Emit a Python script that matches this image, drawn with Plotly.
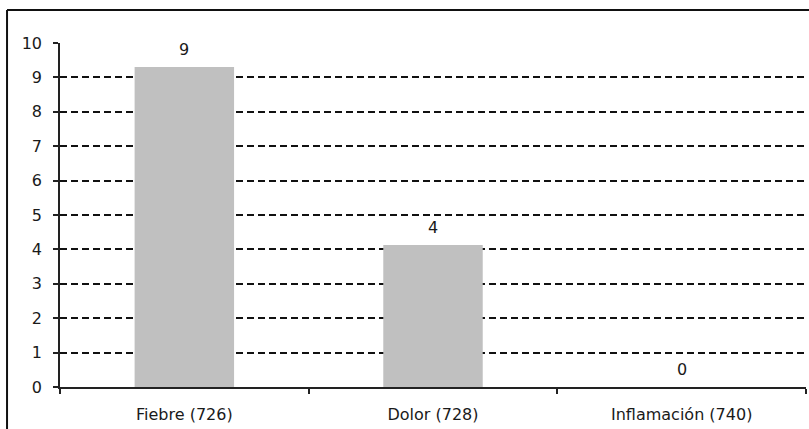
import plotly.graph_objects as go

# Data
categories = ["Fiebre (726)", "Dolor (728)", "Inflamación (740)"]
values = [9.3, 4.13, 0]
y_ticks = list(range(0, 11))

FONT = "DejaVu Sans"
TEXT_COLOR = "#1a1a1a"
FONT_SIZE = 16

fig = go.Figure()
fig.add_trace(go.Bar(
    x=categories,
    y=values,
    marker=dict(color="#c0c0c0", line=dict(width=0)),
    hoverinfo="skip",
))

# Value labels above each bar, formatted from the bar values
for cat, v in zip(categories, values):
    fig.add_annotation(
        x=cat, y=v, text=f"{v:.0f}", showarrow=False,
        xref="x", yref="y", yanchor="bottom", yshift=6,
        font=dict(family=FONT, size=FONT_SIZE, color=TEXT_COLOR),
    )

# Outer frame of the chart area (top and left edges)
frame = dict(color="#111111", width=2)
fig.add_shape(type="line", xref="paper", yref="paper",
              x0=-0.071, x1=1.05, y0=1.096, y1=1.096, line=frame, layer="above")
fig.add_shape(type="line", xref="paper", yref="paper",
              x0=-0.071, x1=-0.071, y0=-0.2, y1=1.096, line=frame, layer="above")

fig.update_layout(
    width=809, height=429,
    margin=dict(l=60, r=3, t=43, b=42),
    paper_bgcolor="white", plot_bgcolor="white",
    bargap=0.6,
    showlegend=False,
    font=dict(family=FONT, size=FONT_SIZE, color=TEXT_COLOR),
)

fig.update_xaxes(
    type="category",
    showline=True, linecolor="#222222", linewidth=1.5,
    ticks="outside", tickson="boundaries", ticklen=5, tickwidth=1.5, tickcolor="#222222",
    ticklabelstandoff=12,
    showgrid=False, zeroline=False,
    tickfont=dict(family=FONT, size=FONT_SIZE, color=TEXT_COLOR),
)

fig.update_yaxes(
    range=[0, 10],
    tickvals=y_ticks,
    showline=True, linecolor="#222222", linewidth=1.5,
    ticks="outside", ticklen=5, tickwidth=1.5, tickcolor="#222222",
    ticklabelstandoff=8,
    showgrid=True, gridcolor="#111111", gridwidth=1.5, griddash="7px,4px",
    zeroline=False,
    tickfont=dict(family=FONT, size=FONT_SIZE, color=TEXT_COLOR),
)

fig.write_html("out.html")
